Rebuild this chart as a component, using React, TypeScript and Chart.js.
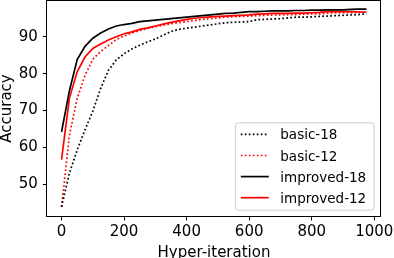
import React, { useEffect, useRef } from "react";
import { Chart, registerables } from "chart.js";

Chart.register(...registerables);

const iterations = [0, 25, 50, 75, 100, 125, 150, 175, 200, 225, 250, 275, 300, 325, 350, 375, 400, 425, 450, 475, 500, 525, 550, 575, 600, 625, 650, 675, 700, 725, 750, 775, 800, 825, 850, 875, 900, 925, 950, 975];

const basic18 = [43.9, 53.0, 59.3, 64.8, 69.8, 76.0, 80.9, 83.7, 85.4, 86.7, 87.7, 88.6, 89.4, 90.4, 91.4, 92.0, 92.3, 92.6, 92.9, 93.2, 93.5, 93.8, 93.9, 94.0, 94.1, 94.6, 94.7, 94.8, 94.9, 95.1, 95.3, 95.3, 95.4, 95.5, 95.6, 95.7, 95.8, 95.9, 96.0, 96.2];
const basic12 = [43.9, 63.2, 73.3, 79.5, 83.9, 86.0, 87.6, 89.2, 90.2, 91.0, 91.7, 92.2, 92.7, 93.1, 93.5, 93.8, 94.1, 94.4, 94.7, 94.9, 95.1, 95.3, 95.4, 95.5, 95.6, 95.7, 95.8, 95.9, 95.9, 96.0, 96.0, 96.1, 96.2, 96.2, 96.4, 96.5, 96.5, 96.5, 96.6, 96.6];
const improved18 = [64.2, 75.3, 83.8, 87.4, 89.6, 91.0, 92.1, 92.9, 93.3, 93.6, 94.1, 94.3, 94.5, 94.7, 94.9, 95.1, 95.3, 95.5, 95.7, 95.9, 96.1, 96.3, 96.4, 96.6, 96.8, 96.8, 96.9, 97.0, 97.0, 97.0, 97.1, 97.1, 97.2, 97.2, 97.3, 97.3, 97.3, 97.4, 97.5, 97.5];
const improved12 = [56.7, 73.3, 80.5, 84.5, 86.8, 88.0, 89.1, 90.0, 90.8, 91.3, 92.0, 92.4, 92.9, 93.4, 93.9, 94.3, 94.7, 95.0, 95.2, 95.4, 95.5, 95.6, 95.7, 95.8, 95.9, 96.1, 96.2, 96.3, 96.3, 96.3, 96.4, 96.4, 96.5, 96.6, 96.8, 96.8, 96.8, 96.8, 96.7, 96.7];

const seriesLabels = ["basic-18", "basic-12", "improved-18", "improved-12"];
const xTicks = [0, 200, 400, 600, 800, 1000];
const yTicks = [50, 60, 70, 80, 90];

const FONT = "'DejaVu Sans', sans-serif";

const frameAndLegend = {
  id: "frameAndLegend",
  afterDraw(chart: any) {
    const { ctx, chartArea } = chart;
    const { left, right, top, bottom } = chartArea;
    ctx.save();
    // spines
    ctx.strokeStyle = "#000";
    ctx.lineWidth = 1;
    ctx.setLineDash([]);
    ctx.strokeRect(Math.round(left) + 0.5, Math.round(top) + 0.5, Math.round(right - left) - 1, Math.round(bottom - top) - 1);

    // legend
    const fs = 13.5;
    ctx.font = `${fs}px ${FONT}`;
    const datasets = chart.data.datasets;
    let maxW = 0;
    datasets.forEach((d: any) => { maxW = Math.max(maxW, ctx.measureText(d.label).width); });
    const boxW = maxW + 53;
    const rowH = 21.1;
    const boxH = rowH * (datasets.length - 1) + 24;
    const bx = right - 7.5 - boxW;
    const by = bottom - 6.8 - boxH;
    const r = 3;
    ctx.beginPath();
    ctx.moveTo(bx + r, by);
    ctx.lineTo(bx + boxW - r, by);
    ctx.arcTo(bx + boxW, by, bx + boxW, by + r, r);
    ctx.lineTo(bx + boxW, by + boxH - r);
    ctx.arcTo(bx + boxW, by + boxH, bx + boxW - r, by + boxH, r);
    ctx.lineTo(bx + r, by + boxH);
    ctx.arcTo(bx, by + boxH, bx, by + boxH - r, r);
    ctx.lineTo(bx, by + r);
    ctx.arcTo(bx, by, bx + r, by, r);
    ctx.closePath();
    ctx.fillStyle = "rgba(255,255,255,0.8)";
    ctx.fill();
    ctx.strokeStyle = "#cccccc";
    ctx.lineWidth = 1;
    ctx.stroke();

    datasets.forEach((d: any, i: number) => {
      const cy = by + 11.5 + i * rowH;
      ctx.beginPath();
      ctx.setLineDash(d.borderDash || []);
      ctx.strokeStyle = d.borderColor;
      ctx.lineWidth = d.borderWidth;
      ctx.lineCap = "butt";
      ctx.moveTo(bx + 5.5, cy);
      ctx.lineTo(bx + 33.5, cy);
      ctx.stroke();
      ctx.setLineDash([]);
      ctx.fillStyle = "#000";
      ctx.textAlign = "left";
      ctx.textBaseline = "alphabetic";
      ctx.fillText(d.label, bx + 45, cy + 5);
    });
    ctx.restore();
  },
};

export default function App() {
  const ref = useRef<HTMLCanvasElement | null>(null);

  useEffect(() => {
    if (!ref.current) return;
    const mk = (vals: number[]) => iterations.map((x, i) => ({ x, y: vals[i] }));
    const dotted = [1.7, 2.3];
    const lw = 1.7;
    const chart = new Chart(ref.current, {
      type: "line",
      data: {
        datasets: [
          { label: seriesLabels[0], data: mk(basic18), borderColor: "#000000", borderWidth: lw, borderDash: dotted, pointRadius: 0, tension: 0, fill: false },
          { label: seriesLabels[1], data: mk(basic12), borderColor: "#ff0000", borderWidth: lw, borderDash: dotted, pointRadius: 0, tension: 0, fill: false },
          { label: seriesLabels[2], data: mk(improved18), borderColor: "#000000", borderWidth: lw, pointRadius: 0, tension: 0, fill: false },
          { label: seriesLabels[3], data: mk(improved12), borderColor: "#ff0000", borderWidth: lw, pointRadius: 0, tension: 0, fill: false },
        ],
      },
      options: {
        responsive: false,
        animation: false,
        events: [],
        layout: { padding: { left: 0, top: 0, right: 12.3, bottom: 0 } },
        plugins: { legend: { display: false }, tooltip: { enabled: false }, title: { display: false } },
        scales: {
          x: {
            type: "linear",
            min: -48.75,
            max: 1023.75,
            afterBuildTicks: (s: any) => { s.ticks = xTicks.map((v) => ({ value: v })); },
            afterFit: (s: any) => { s.height = 41; s.paddingLeft = 0; s.paddingRight = 0; s.paddingTop = 0; s.paddingBottom = 0; },
            grid: { drawOnChartArea: false, drawTicks: true, tickLength: 3.5, tickColor: "#000", tickWidth: 1 },
            border: { display: false },
            ticks: { color: "#000", font: { family: FONT, size: 15 }, padding: 3, maxRotation: 0, autoSkip: false, callback: (v: any) => String(v) },
            title: { display: true, text: "Hyper-iteration", color: "#000", font: { family: FONT, size: 15, lineHeight: 0.7 }, padding: { top: 0, bottom: 0 } },
          },
          y: {
            type: "linear",
            min: 41.14,
            max: 99.95,
            afterBuildTicks: (s: any) => { s.ticks = yTicks.map((v) => ({ value: v })); },
            afterFit: (s: any) => { s.width = 46.3; s.paddingLeft = 0; s.paddingRight = 0; s.paddingTop = 0; s.paddingBottom = 0; },
            grid: { drawOnChartArea: false, drawTicks: true, tickLength: 3.5, tickColor: "#000", tickWidth: 1 },
            border: { display: false },
            ticks: { color: "#000", font: { family: FONT, size: 15 }, padding: 5, autoSkip: false, callback: (v: any) => String(v) },
            title: { display: true, text: "Accuracy", color: "#000", font: { family: FONT, size: 15, lineHeight: 1 }, padding: { top: 0, bottom: 0 } },
          },
        },
      },
      plugins: [frameAndLegend],
    } as any);
    return () => chart.destroy();
  }, []);

  return (
    <div style={{ position: "fixed", left: 0, top: 0, width: 394, height: 258, background: "#fff" }}>
      <canvas ref={ref} width={394} height={258} style={{ display: "block" }} />
    </div>
  );
}
